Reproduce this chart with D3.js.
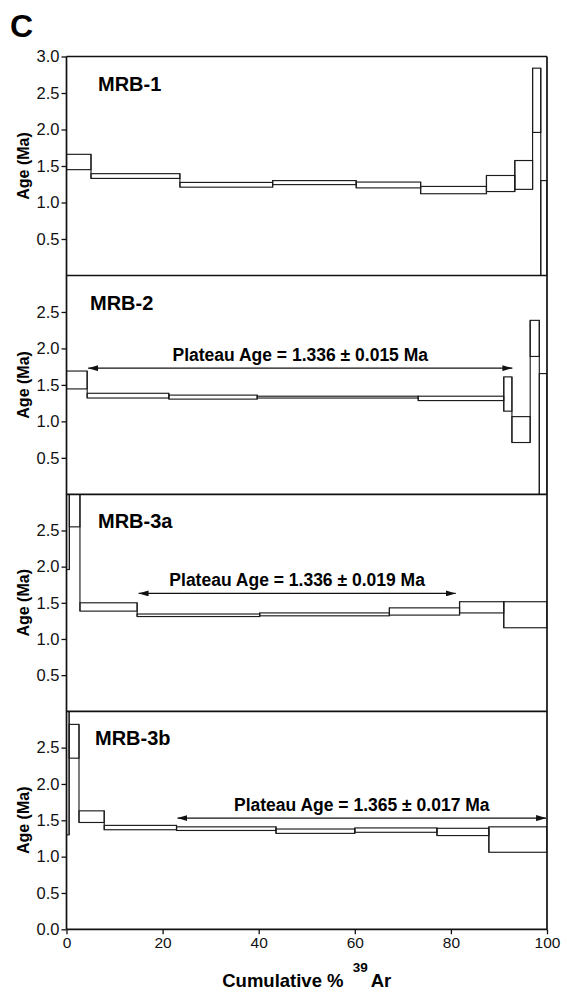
<!DOCTYPE html>
<head>
<meta charset="utf-8">
<style>
body, html {
  margin: 0;
  padding: 0;
  background: #fff;
  font-family: Arial, "Liberation Sans", sans-serif;
}
.frame {
  fill: none;
  stroke: #111;
  stroke-width: 1.7px;
}
.step {
  fill: none;
  stroke: #1c1c1c;
  stroke-width: 1.15px;
}
.axis text {
  font-family: Arial, "Liberation Sans", sans-serif;
  fill: #111;
}
.axis line {
  stroke: #111;
  stroke-width: 1.3px;
}
.sample {
  font-weight: bold;
  font-size: 20px;
}
.plateau {
  font-weight: bold;
  font-size: 17.5px;
}
.arrow {
  stroke: #111;
  stroke-width: 1.4px;
}
</style>
<script src="https://d3js.org/d3.v7.min.js"></script>
</head>
<body>
<script>

//==========================================
// data: cumulative % 39Ar step boundaries, upper / lower age bounds (Ma)
var samples = ["MRB-1", "MRB-2", "MRB-3a", "MRB-3b"];

var mrb1Steps = [0, 5.1, 23.6, 42.9, 60.3, 73.7, 87.4, 93.3, 97.0, 98.7, 100];
var mrb1Upper = [1.66, 1.395, 1.275, 1.30, 1.28, 1.22, 1.37, 1.575, 2.84, 1.30];
var mrb1Lower = [1.45, 1.33, 1.21, 1.245, 1.20, 1.12, 1.15, 1.18, 1.96, -0.6];

var mrb2Steps = [0, 4.3, 21.3, 39.7, 73.2, 91.0, 92.7, 96.5, 98.4, 100];
var mrb2Upper = [1.69, 1.385, 1.36, 1.345, 1.345, 1.61, 1.065, 2.385, 1.655];
var mrb2Lower = [1.445, 1.32, 1.305, 1.32, 1.285, 1.14, 0.71, 1.89, -0.6];

var mrb3aSteps = [0, 0.6, 2.8, 14.7, 40.2, 67.2, 81.8, 91.0, 100];
var mrb3aUpper = [3.5, 3.5, 1.50, 1.345, 1.36, 1.43, 1.515, 1.515];
var mrb3aLower = [1.96, 2.55, 1.385, 1.31, 1.32, 1.33, 1.36, 1.155];

var mrb3bSteps = [0, 0.55, 2.6, 7.85, 22.9, 43.6, 60.0, 77.1, 87.9, 100];
var mrb3bUpper = [3.5, 2.82, 1.63, 1.43, 1.41, 1.38, 1.395, 1.39, 1.41];
var mrb3bLower = [1.30, 2.355, 1.47, 1.37, 1.36, 1.32, 1.335, 1.29, 1.06];

var plateauLabels = [null, "Plateau Age = 1.336 \u00b1 0.015 Ma",
                     "Plateau Age = 1.336 \u00b1 0.019 Ma",
                     "Plateau Age = 1.365 \u00b1 0.017 Ma"];
var plateauStart = [null, 4.5, 15.0, 23.1];
var plateauEnd   = [null, 92.8, 81.0, 99.8];
var plateauAge   = [null, 1.73, 1.63, 1.53];

var yTicks = [
  [0.5, 1.0, 1.5, 2.0, 2.5, 3.0],
  [0.5, 1.0, 1.5, 2.0, 2.5],
  [0.5, 1.0, 1.5, 2.0, 2.5],
  [0.0, 0.5, 1.0, 1.5, 2.0, 2.5]
];
var xTicks = [0, 20, 40, 60, 80, 100];

var spectra = [
  {steps: mrb1Steps, upper: mrb1Upper, lower: mrb1Lower},
  {steps: mrb2Steps, upper: mrb2Upper, lower: mrb2Lower},
  {steps: mrb3aSteps, upper: mrb3aUpper, lower: mrb3aLower},
  {steps: mrb3bSteps, upper: mrb3bUpper, lower: mrb3bLower}
];

//==========================================
// layout
var width = 567,
    height = 992,
    left = 66.5,
    right = 547,
    panelTops = [56.5, 275.5, 494.3, 711.3],
    bottom = 929.3,
    labelX = [98, 90, 98, 95];

var x = d3.scaleLinear().domain([0, 100]).range([left, right]);

var svg = d3.select("body").append("svg")
    .attr("width", width)
    .attr("height", height);

var defs = svg.append("defs");

defs.append("marker")
    .attr("id", "head")
    .attr("viewBox", "0 0 10 6")
    .attr("refX", 10)
    .attr("refY", 3)
    .attr("markerUnits", "userSpaceOnUse")
    .attr("markerWidth", 10)
    .attr("markerHeight", 6)
    .attr("orient", "auto-start-reverse")
  .append("path")
    .attr("d", "M0,0L10,3L0,6Z")
    .attr("fill", "#111");

//--------------------------------------
function drawPanel(i) {
  var top = panelTops[i],
      bot = i < 3 ? panelTops[i + 1] : bottom,
      h = bot - top;

  var y = d3.scaleLinear().domain([0, 3]).range([h, 0]);

  var g = svg.append("g").attr("transform", "translate(0," + top + ")");

  defs.append("clipPath").attr("id", "clip" + i)
    .append("rect")
      .attr("x", left).attr("y", 0)
      .attr("width", right - left).attr("height", h);

  var sp = spectra[i];
  var data = sp.upper.map(function(u, k) {
    return {x0: sp.steps[k], x1: sp.steps[k + 1], hi: u, lo: sp.lower[k]};
  });

  var plot = g.append("g").attr("clip-path", "url(#clip" + i + ")");

  // one box per heating step
  plot.selectAll("rect.step")
    .data(data)
    .enter().append("rect")
      .attr("class", "step")
      .attr("x", function(d) { return x(d.x0); })
      .attr("width", function(d) { return x(d.x1) - x(d.x0); })
      .attr("y", function(d) { return y(d.hi); })
      .attr("height", function(d) { return y(d.lo) - y(d.hi); });

  // vertical joins between neighbouring steps
  plot.selectAll("line.join")
    .data(data.slice(1))
    .enter().append("line")
      .attr("class", "step")
      .attr("x1", function(d) { return x(d.x0); })
      .attr("x2", function(d) { return x(d.x0); })
      .attr("y1", function(d, k) { return y(Math.max(d.hi, data[k].hi)); })
      .attr("y2", function(d, k) { return y(Math.min(d.lo, data[k].lo)); });

  // y axis
  var yAxis = d3.axisLeft(y)
      .tickValues(yTicks[i])
      .tickFormat(d3.format(".1f"))
      .tickSize(5)
      .tickPadding(2);
  var ya = g.append("g")
      .attr("class", "axis")
      .attr("transform", "translate(" + left + ",0)")
      .call(yAxis);
  ya.select(".domain").remove();
  ya.selectAll("text").attr("font-size", 16.5);

  // frame line at top of panel
  g.append("line")
      .attr("class", "frame")
      .attr("x1", left).attr("x2", right)
      .attr("y1", 0).attr("y2", 0);

  // axis title
  g.append("text")
      .attr("transform", "translate(29," + (h / 2) + ") rotate(-90)")
      .attr("text-anchor", "middle")
      .attr("font-weight", "bold")
      .attr("font-size", 16)
      .text("Age (Ma)");

  // sample name
  g.append("text")
      .attr("class", "sample")
      .attr("x", labelX[i])
      .attr("y", 34)
      .text(samples[i]);

  // plateau arrow
  if (plateauLabels[i]) {
    var ay = y(plateauAge[i]);
    g.append("line")
        .attr("class", "arrow")
        .attr("x1", x(plateauStart[i])).attr("x2", x(plateauEnd[i]))
        .attr("y1", ay).attr("y2", ay)
        .attr("marker-start", "url(#head)")
        .attr("marker-end", "url(#head)");
    g.append("text")
        .attr("class", "plateau")
        .attr("x", (x(plateauStart[i]) + x(plateauEnd[i])) / 2)
        .attr("y", ay - 7.5)
        .attr("text-anchor", "middle")
        .text(plateauLabels[i]);
  }
}

for (var i = 0; i < samples.length; i++) drawPanel(i);

// outer frame: left axis, right side, bottom
svg.append("line").attr("class", "frame")
    .attr("x1", left).attr("x2", left)
    .attr("y1", panelTops[0]).attr("y2", bottom);
svg.append("line").attr("class", "frame")
    .attr("x1", right).attr("x2", right)
    .attr("y1", panelTops[0]).attr("y2", bottom);

var xAxis = d3.axisBottom(x)
    .tickValues(xTicks)
    .tickSize(5)
    .tickPadding(3);
var xa = svg.append("g")
    .attr("class", "axis")
    .attr("transform", "translate(0," + bottom + ")")
    .call(xAxis);
xa.select(".domain").remove();
xa.selectAll("text").attr("font-size", 15.5);

svg.append("line").attr("class", "frame")
    .attr("x1", left).attr("x2", right)
    .attr("y1", bottom).attr("y2", bottom);

// x title with superscript
var xt = svg.append("text")
    .attr("x", (left + right) / 2)
    .attr("y", 987)
    .attr("text-anchor", "middle")
    .attr("font-weight", "bold")
    .attr("font-size", 18.5);
xt.append("tspan").text("Cumulative % ");
xt.append("tspan").attr("font-size", 13.5).attr("dy", -15).attr("dx", 4).text("39");
xt.append("tspan").attr("dy", 15).attr("dx", 3).text("Ar");

// panel letter
svg.append("text")
    .attr("x", 10)
    .attr("y", 37)
    .attr("font-weight", "bold")
    .attr("font-size", 32)
    .text("C");

</script>
</body>
</html>
